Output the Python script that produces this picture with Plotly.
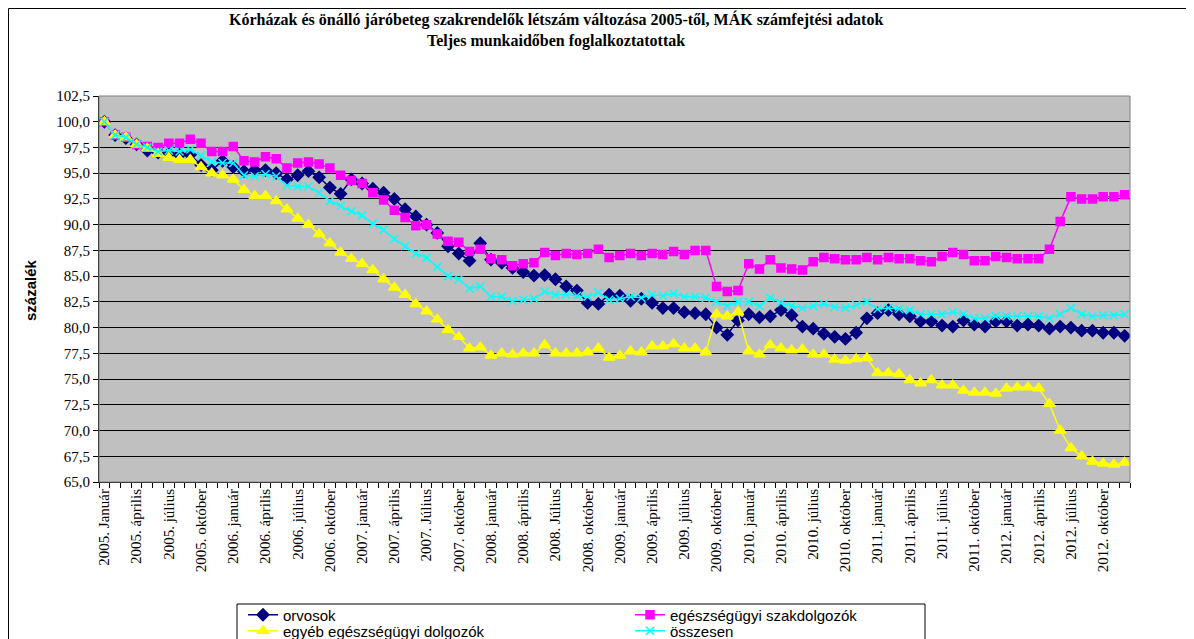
import plotly.graph_objects as go

# monthly index values, 2005 January = 100 (96 months, 2005-2012)
orvosok = [
    100.0, 98.7, 98.4, 97.8, 97.2, 97.0, 96.9, 96.8, 96.8, 95.8, 95.3, 96.2,
    95.6, 95.2, 95.3, 95.3, 95.0, 94.4, 94.8, 95.2, 94.6, 93.6, 93.0, 94.4,
    94.0, 93.5, 93.1, 92.5, 91.5, 90.8, 90.0, 89.2, 87.9, 87.2, 86.5, 88.2,
    86.6, 86.3, 85.8, 85.4, 85.05, 85.1, 84.7, 84.0, 83.6, 82.4, 82.3, 83.2,
    83.1, 82.6, 82.8, 82.4, 81.9, 81.9, 81.5, 81.4, 81.3, 80.0, 79.3, 80.7,
    81.3, 81.0, 81.1, 81.7, 81.2, 80.1, 79.9, 79.4, 79.1, 78.9, 79.5, 80.9,
    81.4, 81.7, 81.3, 81.1, 80.6, 80.6, 80.2, 80.1, 80.7, 80.3, 80.1, 80.6,
    80.6, 80.2, 80.3, 80.2, 79.9, 80.1, 80.0, 79.7, 79.7, 79.5, 79.5, 79.2,
]
szakdolgozok = [
    100.0, 98.7, 98.5, 97.8, 97.6, 97.5, 97.9, 97.9, 98.3, 97.9, 97.1, 97.1,
    97.6, 96.2, 96.1, 96.6, 96.4, 95.5, 96.0, 96.1, 95.9, 95.5, 94.8, 94.3,
    94.0, 93.1, 92.4, 91.4, 90.7, 89.9, 90.0, 89.1, 88.4, 88.3, 87.4, 87.6,
    86.7, 86.6, 86.0, 86.2, 86.3, 87.3, 87.0, 87.2, 87.1, 87.2, 87.6, 86.8,
    87.0, 87.2, 87.0, 87.2, 87.1, 87.4, 87.1, 87.5, 87.5, 84.0, 83.5, 83.6,
    86.2, 85.7, 86.6, 85.8, 85.7, 85.6, 86.4, 86.8, 86.7, 86.6, 86.6, 86.8,
    86.6, 86.8, 86.7, 86.7, 86.5, 86.4, 86.9, 87.3, 87.1, 86.5, 86.5, 86.9,
    86.8, 86.7, 86.7, 86.7, 87.6, 90.3, 92.7, 92.5, 92.5, 92.7, 92.7, 92.9,
]
egyeb = [
    100.0, 98.7, 98.5, 97.8, 97.4, 96.9, 96.5, 96.3, 96.3, 95.6, 95.0, 94.8,
    94.4, 93.4, 92.8, 92.8, 92.3, 91.5, 90.6, 90.0, 89.1, 88.2, 87.3, 86.7,
    86.2, 85.6, 84.7, 83.9, 83.2, 82.3, 81.6, 80.8, 79.8, 79.1, 78.0, 78.1,
    77.3, 77.5, 77.4, 77.5, 77.5, 78.3, 77.5, 77.5, 77.5, 77.6, 78.0, 77.1,
    77.3, 77.7, 77.6, 78.2, 78.2, 78.4, 78.0, 78.0, 77.6, 81.3, 81.1, 81.5,
    77.7, 77.4, 78.3, 78.0, 77.8, 77.9, 77.4, 77.4, 76.9, 76.8, 76.95, 77.05,
    75.6, 75.6, 75.5, 74.9, 74.6, 74.9, 74.4, 74.4, 73.9, 73.7, 73.7, 73.6,
    74.1, 74.2, 74.2, 74.1, 72.6, 70.0, 68.3, 67.5, 67.0, 66.8, 66.7, 66.9,
]
osszesen = [
    100.0, 98.7, 98.5, 97.8, 97.5, 97.1, 97.2, 97.1, 97.3, 96.7, 96.1, 96.0,
    96.0, 94.8, 94.7, 94.9, 94.7, 93.8, 93.7, 93.7, 93.1, 92.3, 91.8, 91.3,
    90.9, 90.1, 89.5, 88.6, 87.9, 87.2, 86.8, 85.9, 85.0, 84.7, 83.8, 84.0,
    83.0, 83.0, 82.6, 82.7, 82.8, 83.5, 83.2, 83.2, 83.1, 83.0, 83.4, 82.7,
    82.8, 83.0, 82.9, 83.2, 83.1, 83.3, 83.0, 83.0, 82.9, 82.5, 82.1, 82.5,
    82.5, 82.1, 82.9, 82.4, 82.1, 81.9, 82.1, 82.3, 82.0, 81.9, 82.2, 82.5,
    81.8, 81.9, 81.8, 81.7, 81.3, 81.3, 81.3, 81.5, 81.3, 80.9, 80.9, 81.1,
    81.1, 81.1, 81.1, 81.1, 80.9, 81.3, 81.9, 81.3, 81.1, 81.2, 81.2, 81.3,
]

# quarterly tick labels (every third month)
tick_labels = [
    "2005. Január", "2005. április", "2005. július", "2005. október",
    "2006. január", "2006. április", "2006. július", "2006. október",
    "2007. január", "2007. április", "2007. Július", "2007. október",
    "2008. január", "2008. április", "2008. Július", "2008. október",
    "2009. január", "2009. április", "2009. július", "2009. október",
    "2010. január", "2010. április", "2010. július", "2010. október",
    "2011. január", "2011. április", "2011. július", "2011. október",
    "2012. január", "2012. április", "2012. július", "2012. október",
]
title_lines = [
    "Kórházak és önálló járóbeteg szakrendelők létszám változása 2005-től, MÁK számfejtési adatok",
    "Teljes munkaidőben foglalkoztatottak",
]

months = list(range(len(orvosok)))
tick_vals = months[::3]

# the page body has an 8px margin, so the figure starts at (8, 8) on screen
OFF = 8
W, H = 1194 - OFF, 639 - OFF
L, R, T, B = 99, 1130, 96, 482  # plot area, screen pixels


def px(x):
    return (x - L) / (R - L)


def py(y):
    return (B - y) / (B - T)


fig = go.Figure()

# name, values, colour, marker, size, legend id, legend position (screen px)
series = [
    ("orvosok", orvosok, "#000080", "diamond", 9, "legend", (243, 615)),
    ("egészségügyi szakdolgozók", szakdolgozok, "#FF00FF", "square", 8, "legend2", (630, 615)),
    ("egyéb egészségügyi dolgozók", egyeb, "#FFFF00", "triangle-up", 10, "legend3", (243, 631)),
    ("összesen", osszesen, "#00FFFF", "x-thin", 8, "legend4", (630, 631)),
]
legends = {}
for name, vals, color, symbol, size, leg, (lx, ly) in series:
    fig.add_trace(go.Scatter(
        x=months, y=vals, name=name, mode="lines+markers",
        line=dict(color=color, width=1.5),
        marker=dict(symbol=symbol, size=size, color=color,
                    line=dict(color=color, width=1.5)),
        legend=leg,
    ))
    legends[leg] = dict(x=px(lx), y=py(ly), xanchor="left", yanchor="middle",
                        bgcolor="rgba(0,0,0,0)", borderwidth=0,
                        font=dict(family="Liberation Sans", size=15))

fig.update_layout(
    width=W, height=H,
    margin=dict(l=L - OFF, r=1194 - R, t=T - OFF, b=639 - B, autoexpand=False),
    paper_bgcolor="white",
    plot_bgcolor="#C0C0C0",
    separators=", ",
    font=dict(family="Liberation Serif", size=15, color="black"),
    xaxis=dict(
        range=[-0.5, len(months) - 0.5], automargin=False,
        tickvals=tick_vals, ticktext=tick_labels, tickangle=-90,
        ticks="", showgrid=False, zeroline=False,
        showline=True, linecolor="black", linewidth=1,
        minor=dict(tick0=0.5, dtick=1, ticks="outside", ticklen=5,
                   tickcolor="black", showgrid=False),
        tickfont=dict(size=15),
    ),
    yaxis=dict(
        range=[65, 102.5], dtick=2.5, tickformat=".1f", automargin=False,
        ticks="outside", ticklen=5, tickcolor="black",
        showgrid=True, gridcolor="black", gridwidth=1, zeroline=False,
        showline=True, linecolor="black", linewidth=1,
        tickfont=dict(size=15),
    ),
    showlegend=True,
    **legends,
)

# two-line bold title
for text, ty in zip(title_lines, (20, 41)):
    fig.add_annotation(
        x=px(556), y=py(ty), xref="paper", yref="paper",
        text=f"<b>{text}</b>", showarrow=False,
        xanchor="center", yanchor="middle",
        font=dict(family="Liberation Serif", size=16),
    )

# y axis title
fig.add_annotation(
    x=px(30), y=py(290), xref="paper", yref="paper",
    text="<b>százalék</b>", textangle=-90, showarrow=False,
    xanchor="center", yanchor="middle",
    font=dict(family="Liberation Sans", size=15),
)

# chart area border, plot area border and legend box
fig.add_shape(type="rect", xref="paper", yref="paper",
              x0=px(8.5), y0=py(660), x1=px(1210), y1=py(8.5),
              line=dict(color="black", width=1))
fig.add_shape(type="rect", xref="paper", yref="paper",
              x0=0, y0=0, x1=1, y1=1,
              line=dict(color="#808080", width=1))
fig.add_shape(type="rect", xref="paper", yref="paper",
              x0=px(237), y0=py(660), x1=px(925), y1=py(604),
              line=dict(color="black", width=1))

fig.write_html("out.html")
